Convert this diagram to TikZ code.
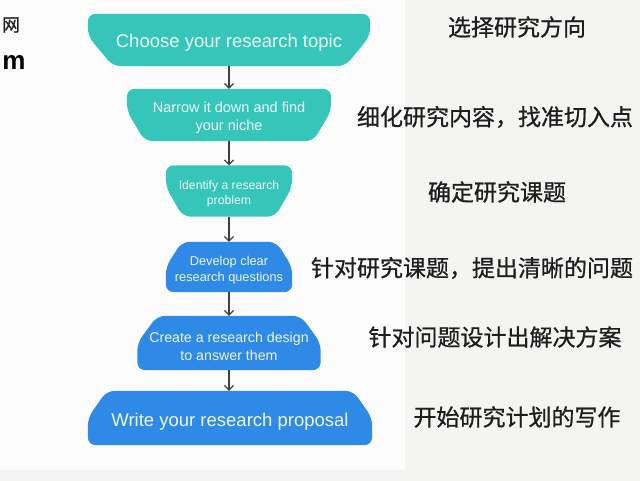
\documentclass[tikz,border=0pt]{standalone}
\usepackage{fontspec}
\setmainfont{Liberation Sans}
\newfontfamily\cjk[FakeBold=0.8]{Noto Sans CJK SC}
\usetikzlibrary{arrows.meta,backgrounds,calc}
\definecolor{tealc}{HTML}{36C6B9}
\definecolor{bluec}{HTML}{2F89E7}
\definecolor{txtc}{HTML}{EEF8F6}
\definecolor{bgc}{HTML}{F4F4F2}
\definecolor{panelc}{HTML}{FCFCFD}
\definecolor{inkc}{HTML}{1E1E1E}
\definecolor{arrc}{HTML}{404040}
\newcommand\tealshape[2]{%
  \fill[tealc, rounded corners=8pt] (#1.north west) -- (#1.north east)
    -- ($(#1.north east)!0.42!(#1.south east)$)
    -- ([xshift=-#2pt]#1.south east) -- ([xshift=#2pt]#1.south west)
    -- ($(#1.north west)!0.42!(#1.south west)$) -- cycle;}
\newcommand\blueshape[2]{%
  \fill[bluec, rounded corners=8pt] ([xshift=#2pt]#1.north west) -- ([xshift=-#2pt]#1.north east)
    -- ($(#1.north east)!0.5!(#1.south east)$)
    -- (#1.south east) -- (#1.south west)
    -- ($(#1.north west)!0.5!(#1.south west)$) -- cycle;}
\begin{document}
\begin{tikzpicture}[x=1pt,y=-1pt,
  shp/.style={inner sep=0pt},
  lbl/.style={inner sep=0pt, align=center, text=txtc},
  cn/.style={inner sep=0pt, text=inkc, font=\cjk\fontsize{23}{26}\selectfont},
  flow/.style={draw=arrc, line width=1.2pt, -{Straight Barb[length=4.5pt,width=9pt]}}]
\useasboundingbox (0,0) rectangle (640,481);

% box outlines (shapes filled on the background layer)
\node[shp, minimum width=282pt, minimum height=52pt] (b1) at (229,40) {};
\node[shp, minimum width=204pt, minimum height=52pt] (b2) at (229,115) {};
\node[shp, minimum width=126pt, minimum height=51pt] (b3) at (229,191) {};
\node[shp, minimum width=126pt, minimum height=50pt] (b4) at (229,267) {};
\node[shp, minimum width=183pt, minimum height=54pt] (b5) at (229,343) {};
\node[shp, minimum width=284pt, minimum height=54pt] (b6) at (230,418) {};

% box texts
\node[lbl, font=\fontsize{18.5}{22}\selectfont] (t1) at ([yshift=-2.5pt]b1.center) {Choose your research topic};
\node[lbl, font=\fontsize{14.5}{18}\selectfont] (t2) at ([yshift=-3pt]b2.center) {Narrow it down and find\\your niche};
\node[lbl, font=\fontsize{12.2}{15}\selectfont] (t3) at ([yshift=-3pt]b3.center) {Identify a research\\problem};
\node[lbl, font=\fontsize{12.8}{15.5}\selectfont] (t4) at ([yshift=-3pt]b4.center) {Develop clear\\research questions};
\node[lbl, font=\fontsize{14.2}{17.5}\selectfont] (t5) at ([yshift=-3.5pt]b5.center) {Create a research design\\to answer them};
\node[lbl, font=\fontsize{18.5}{22}\selectfont] (t6) at ([yshift=-3.5pt]b6.center) {Write your research proposal};

% arrows
\draw[flow] (b1.south) -- (b2.north);
\draw[flow] (b2.south) -- (b3.north);
\draw[flow] (b3.south) -- (b4.north);
\draw[flow] (b4.south) -- (b5.north);
\draw[flow] (b5.south) -- (b5.south |- b6.north);

% chinese labels
\node[cn] (c1) at (517,27) {选择研究方向};
\node[cn] (c2) at (495,117) {细化研究内容，找准切入点};
\node[cn] (c3) at (497,192) {确定研究课题};
\node[cn] (c4) at (472,268) {针对研究课题，提出清晰的问题};
\node[cn] (c5) at (495,337) {针对问题设计出解决方案};
\node[cn] (c6) at (517,417) {开始研究计划的写作};

% fragments on the left edge
\node[inner sep=0pt, text=inkc, font=\cjk\fontsize{18}{21}\selectfont] (f1) at (11,25) {网};
\node[inner sep=0pt, text=black, font=\bfseries\fontsize{26}{30}\selectfont] (f2) at (14,63) {m};

\begin{scope}[on background layer]
  \fill[bgc] (0,0) rectangle (640,481);
  \fill[panelc] (0,0) rectangle (405,470);
  \tealshape{b1}{25}
  \tealshape{b2}{18}
  \tealshape{b3}{17}
  \blueshape{b4}{16}
  \blueshape{b5}{20}
  \blueshape{b6}{19}
\end{scope}
\end{tikzpicture}
\end{document}
